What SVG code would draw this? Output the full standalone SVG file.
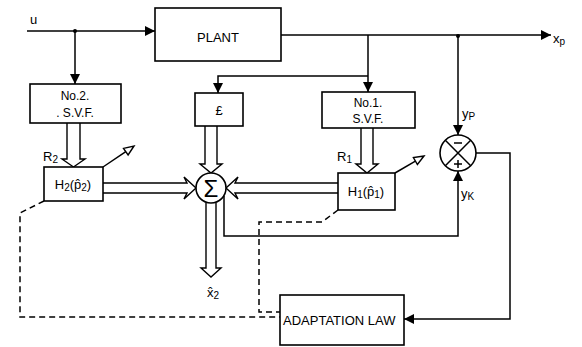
<svg xmlns="http://www.w3.org/2000/svg" width="582" height="347" viewBox="0 0 582 347">
<style>
.box{fill:#fff;stroke:#000;stroke-width:1.6}
.ln{fill:none;stroke:#000;stroke-width:1.5}
.dl{fill:none;stroke:#000;stroke-width:1.5;stroke-dasharray:6 4}
.ha{fill:#fff;stroke:#000;stroke-width:1.4;stroke-linejoin:miter}
text{font-family:"Liberation Sans","DejaVu Sans",sans-serif;font-size:12px;fill:#000}
.lb{font-size:13px}
.sg{font-size:24px}
</style>
<defs>
<marker id="ar" viewBox="0 0 10 10" refX="10" refY="5" markerWidth="10" markerHeight="10" markerUnits="userSpaceOnUse" orient="auto">
<path d="M0,0 L10,5 L0,10 z" fill="#000"/>
</marker>
</defs>
<rect width="582" height="347" fill="#fff"/>
<g id="connectors">
<path class="ln" d="M27 31 H155" marker-end="url(#ar)"/>
<circle cx="75" cy="31" r="2" fill="#000"/>
<path class="ln" d="M75 31 V84" marker-end="url(#ar)"/>
<path class="ln" d="M281 35 H551" marker-end="url(#ar)"/>
<circle cx="458" cy="36" r="2" fill="#000"/>
<path class="ln" d="M368 35 V92" marker-end="url(#ar)"/>
<path class="ln" d="M368 76 H218 V93" marker-end="url(#ar)"/>
<path class="ln" d="M458 36 V135" marker-end="url(#ar)"/>
<path class="ln" d="M224 196 V236 H458 V171" marker-end="url(#ar)"/>
<path class="ln" d="M476 153 H510 V319 H404" marker-end="url(#ar)"/>
<path class="ha" d="M67 123 V159 H62 L73.5 167 L85 159 H80 V123"/>
<path class="ha" d="M361 128 V164 H356 L367 173 L378 164 H373 V128"/>
<path class="ha" d="M205 126 V164 H200 L211 173 L222 164 H217 V126"/>
<path class="ha" d="M103 183 H187 L184 177 L196 188 L184 199 L187 193 H103"/>
<path class="ha" d="M338 183 H235 L238 177 L226 188 L238 199 L235 193 H338"/>
<path class="ha" d="M206 203 V268 H201 L211 277 L221 268 H216 V203"/>
<path class="dl" d="M338 210 L322 222 H259 V312 H280"/>
<path class="dl" d="M44 201 L20 213 V317 H280"/>
<path class="ln" d="M103 167 L125.8 151.7"/>
<polygon class="ha" points="134,146 128.1,155 123.5,148.4"/>
<path class="ln" d="M395 173 L415.4 161.1"/>
<polygon class="ha" points="424,156 417.4,164.5 413.4,157.6"/>
</g>
<g id="plant"><rect class="box" x="155" y="8" width="126" height="53"/><text x="218" y="42" text-anchor="middle" class="lb">PLANT</text></g>
<g id="svf2"><rect class="box" x="30" y="84" width="91" height="39"/><text x="75" y="100" text-anchor="middle">No.2.</text><text x="75" y="117" text-anchor="middle">. S.V.F.</text></g>
<g id="f"><rect class="box" x="195" y="93" width="48" height="33"/><text x="219" y="115" text-anchor="middle" class="lb">£</text></g>
<g id="svf1"><rect class="box" x="322" y="92" width="93" height="36"/><text x="368" y="107" text-anchor="middle">No.1.</text><text x="368" y="123" text-anchor="middle">S.V.F.</text></g>
<g id="h2"><rect class="box" x="44" y="167" width="59" height="34"/><text x="73" y="189" text-anchor="middle" class="lb">H<tspan font-size="10" dy="2">2</tspan><tspan dy="-2">(p̂</tspan><tspan font-size="10" dy="2">2</tspan><tspan dy="-2">)</tspan></text></g>
<g id="h1"><rect class="box" x="338" y="173" width="57" height="37"/><text x="366" y="196" text-anchor="middle" class="lb">H<tspan font-size="10" dy="2">1</tspan><tspan dy="-2">(p̂</tspan><tspan font-size="10" dy="2">1</tspan><tspan dy="-2">)</tspan></text></g>
<g id="sum"><circle class="box" cx="211" cy="188" r="15"/><text x="211" y="196.5" text-anchor="middle" class="sg">Σ</text></g>
<g id="comparator"><circle class="box" cx="458" cy="153" r="18"/><path class="ln" d="M445.3 140.3 L470.7 165.7 M470.7 140.3 L445.3 165.7"/><path class="ln" d="M454 143 H462 M454 164 H462 M458 160 V168"/></g>
<g id="adapt"><rect class="box" x="280" y="295" width="124" height="50"/><text x="283" y="325" class="lb">ADAPTATION LAW</text></g>
<g id="labels">
<text x="30" y="24" class="lb">u</text>
<text x="553" y="43" class="lb">x<tspan font-size="10" dy="2">p</tspan></text>
<text x="462" y="118" class="lb">y<tspan font-size="10" dy="2">P</tspan></text>
<text x="461" y="198" class="lb">y<tspan font-size="10" dy="2">K</tspan></text>
<text x="43" y="161" class="lb">R<tspan font-size="10" dy="2">2</tspan></text>
<text x="337" y="161" class="lb">R<tspan font-size="10" dy="2">1</tspan></text>
<text x="207" y="297" class="lb">x̂<tspan font-size="10" dy="2">2</tspan></text>
</g>
</svg>
